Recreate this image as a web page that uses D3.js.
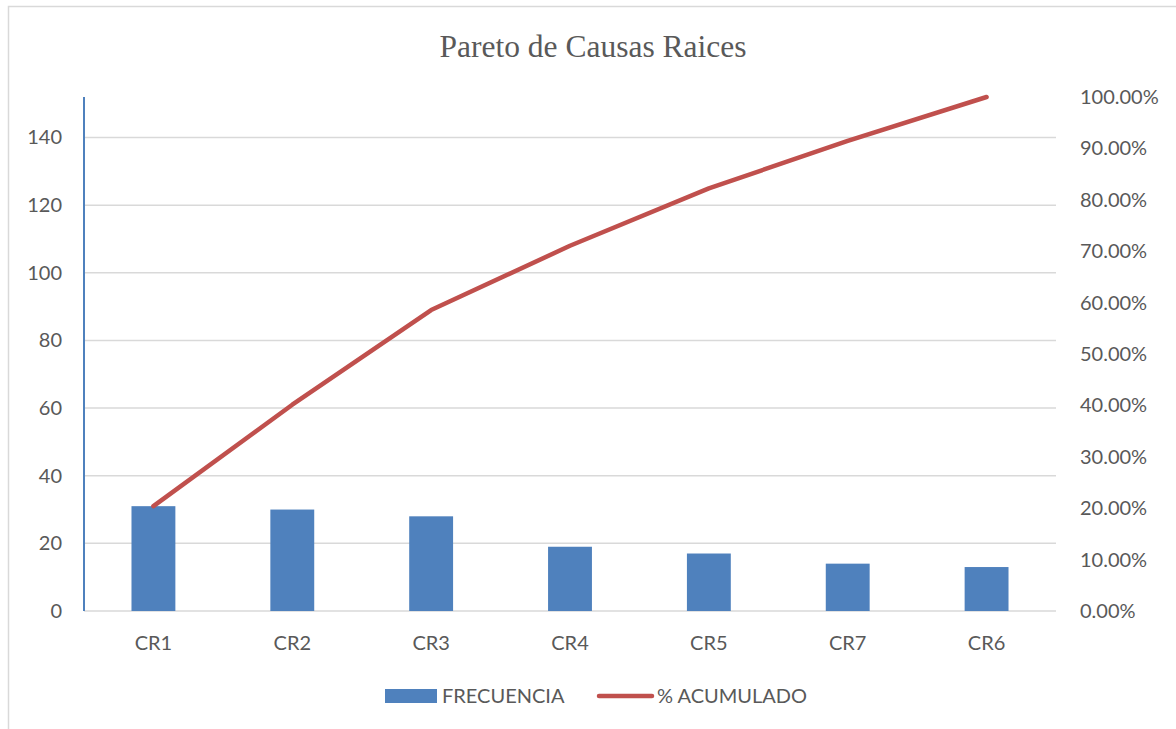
<!DOCTYPE html>
<html>
<head>
<meta charset="utf-8">
<script src="https://cdn.jsdelivr.net/npm/d3@7"></script>
<style>
  body { margin:0; background:#fff; }
  text { font-family: Lato, "Open Sans", sans-serif; fill:#595959; }
</style>
</head>
<body>
<svg id="chart" width="1176" height="729"></svg>
<script>
/* pareto chart data */
var categories = ["CR1","CR2","CR3","CR4","CR5","CR7","CR6"];
var frecuencia = [31, 30, 28, 19, 17, 14, 13];
var leftTicks = [0,20,40,60,80,100,120,140];
var rightTicks = [0,0.1,0.2,0.3,0.4,0.5,0.6,0.7,0.8,0.9,1];

var total = d3.sum(frecuencia);
var acumulado = [];
var run = 0;
frecuencia.forEach(function(v){ run += v; acumulado.push(run/total); });

var svg = d3.select("#chart");
var plot = {left:84, right:1056, top:97, bottom:611};
var fs = "20px";

// outer frame
svg.append("rect")
    .attr("x", 8.5).attr("y", 6.5)
    .attr("width", 1180).attr("height", 740)
    .attr("fill", "none").attr("stroke", "#d9d9d9").attr("stroke-width", 1.5);

svg.append("text")
    .attr("x", 593).attr("y", 57)
    .attr("text-anchor", "middle")
    .style("font-family", "'Liberation Serif', 'Times New Roman', serif")
    .style("font-size", "31.5px")
    .text("Pareto de Causas Raices");

var x = d3.scaleBand().domain(categories).range([plot.left, plot.right]).paddingInner(0.684).paddingOuter(0.342);
var yL = d3.scaleLinear().domain([0, total]).range([plot.bottom, plot.top]);
var yR = d3.scaleLinear().domain([0, 1]).range([plot.bottom, plot.top]);

// gridlines
svg.append("g").selectAll("line").data(leftTicks).join("line")
    .attr("x1", plot.left).attr("x2", plot.right)
    .attr("y1", function(d){ return yL(d); }).attr("y2", function(d){ return yL(d); })
    .attr("stroke", "#d9d9d9").attr("stroke-width", 1.5);

// left axis
var axL = svg.append("g").attr("transform", "translate(" + plot.left + ",0)")
    .call(d3.axisLeft(yL).tickValues(leftTicks).tickSize(0).tickPadding(22));
axL.select(".domain").remove();
axL.selectAll("text").style("font-size", fs).style("font-family", "Lato, 'Open Sans', sans-serif").attr("fill", "#595959");
svg.append("line")
    .attr("x1", plot.left).attr("x2", plot.left)
    .attr("y1", plot.top).attr("y2", plot.bottom)
    .attr("stroke", "#4f81bd").attr("stroke-width", 2);

// right axis
var axR = svg.append("g").attr("transform", "translate(" + (plot.right + 24) + ",0)")
    .call(d3.axisRight(yR).tickValues(rightTicks).tickSize(0).tickPadding(0).tickFormat(d3.format(".2%")));
axR.select(".domain").remove();
axR.selectAll("text").style("font-size", fs).style("font-family", "Lato, 'Open Sans', sans-serif").attr("fill", "#595959");

// x axis labels
var axB = svg.append("g").attr("transform", "translate(0," + plot.bottom + ")")
    .call(d3.axisBottom(x).tickSize(0).tickPadding(25));
axB.select(".domain").remove();
axB.selectAll("text").style("font-size", fs).style("font-family", "Lato, 'Open Sans', sans-serif").attr("fill", "#595959");

// bars
svg.append("g").selectAll("rect").data(frecuencia).join("rect")
    .attr("x", function(d,i){ return x(categories[i]); })
    .attr("width", x.bandwidth())
    .attr("y", function(d){ return yL(d); })
    .attr("height", function(d){ return yL(0) - yL(d); })
    .attr("fill", "#4f81bd");

// cumulative line
var line = d3.line()
    .x(function(d,i){ return x(categories[i]) + x.bandwidth()/2; })
    .y(function(d){ return yR(d); });
svg.append("path").datum(acumulado)
    .attr("d", line)
    .attr("fill", "none").attr("stroke", "#c0504d").attr("stroke-width", 4.5)
    .attr("stroke-linecap", "round").attr("stroke-linejoin", "round");

// legend
var lg = svg.append("g");
lg.append("rect").attr("x", 385).attr("y", 689).attr("width", 52).attr("height", 14).attr("fill", "#4f81bd");
lg.append("text").attr("x", 442).attr("y", 703).style("font-size", fs).text("FRECUENCIA");
lg.append("line").attr("x1", 599).attr("x2", 652).attr("y1", 696).attr("y2", 696)
    .attr("stroke", "#c0504d").attr("stroke-width", 4.5).attr("stroke-linecap", "round");
lg.append("text").attr("x", 657).attr("y", 703).style("font-size", fs).text("% ACUMULADO");
</script>
</body>
</html>
